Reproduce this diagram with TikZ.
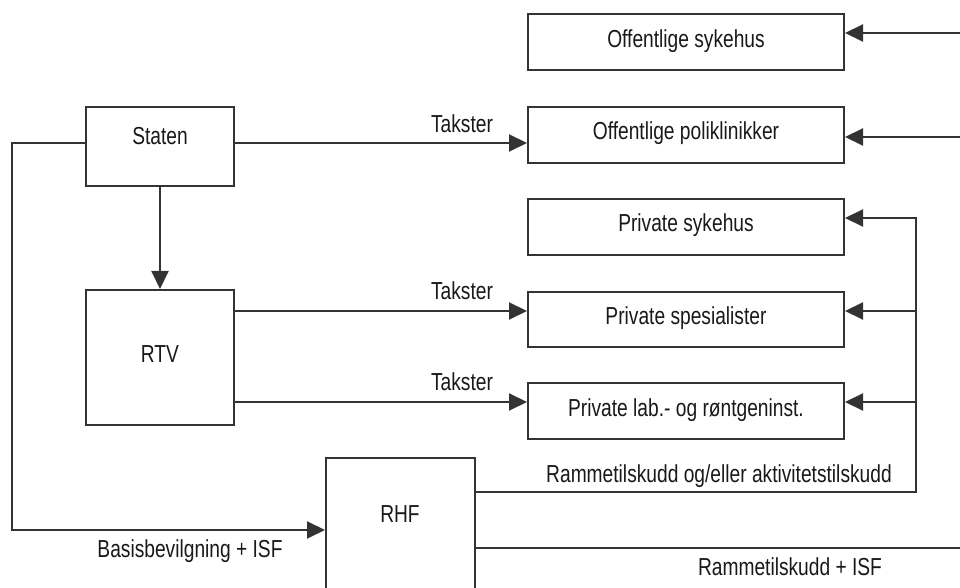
\documentclass[tikz,border=0pt]{standalone}
\usepackage{fontspec}
\setmainfont[FakeStretch=0.78]{Liberation Sans}
\usetikzlibrary{arrows.meta,calc}
\begin{document}
\begin{tikzpicture}[x=0.5pt,y=-0.5pt,
  box/.style={draw=black!80,line width=1pt,inner sep=0pt},
  txt/.style={anchor=base,inner sep=0pt,font=\fontsize{12.3}{14}\selectfont,text=black!90},
  conn/.style={draw=black!80,line width=1pt},
  arr/.style={conn,-{Triangle[length=9pt,width=8.5pt]}}]
\useasboundingbox (0,0) rectangle (960,588);
\clip (0,0) rectangle (960,588);
% boxes
\node[box,minimum width=158pt,minimum height=28pt] (os) at (686,42) {};
\node[box,minimum width=158pt,minimum height=28pt] (op) at (686,135) {};
\node[box,minimum width=158pt,minimum height=28pt] (ps) at (686,227) {};
\node[box,minimum width=158pt,minimum height=27.5pt] (psp) at (686,319.5) {};
\node[box,minimum width=158pt,minimum height=28pt] (pl) at (686,411) {};
\node[box,minimum width=74pt,minimum height=39.5pt] (staten) at (160,146.5) {};
\node[box,minimum width=74pt,minimum height=67.5pt] (rtv) at (160,357.5) {};
\node[box,minimum width=74.5pt,minimum height=76pt] (rhf) at (400.5,534) {};
% box texts
\node[txt] (tos) at (686,48) {Offentlige sykehus};
\node[txt] (top) at (686,140) {Offentlige poliklinikker};
\node[txt] (tps) at (686,232) {Private sykehus};
\node[txt] (tpsp) at (686,325) {Private spesialister};
\node[txt] (tpl) at (686,417) {Private lab.- og røntgeninst.};
\node[txt] (tstaten) at (160,145) {Staten};
\node[txt] (trtv) at (160,363) {RTV};
\node[txt] (trhf) at (400,523) {RHF};
% connector labels
\node[txt] (l1) at (462,133) {Takster};
\node[txt] (l2) at (462,300) {Takster};
\node[txt] (l3) at (462,391) {Takster};
\node[txt] (l4) at (719,483) {Rammetilskudd og/eller aktivitetstilskudd};
\node[txt] (l5) at (190,558) {Basisbevilgning + ISF};
\node[txt] (l6) at (790,575) {Rammetilskudd + ISF};
% coordinates
\coordinate (s1) at (234,143);
\coordinate (s2) at (86,143);
\coordinate (c1) at (12,143);
\coordinate (c2) at (12,530);
\coordinate (r1) at (234,311);
\coordinate (r2) at (234,402);
\coordinate (e1) at (960,33);
\coordinate (e2) at (960,137);
\coordinate (h1) at (475,492);
\coordinate (b1) at (916,492);
\coordinate (b2) at (916,218);
\coordinate (b3) at (916,311);
\coordinate (b4) at (916,402);
\coordinate (h2) at (475,548);
\coordinate (e3) at (960,548);
% connectors
\draw[arr] (s1) -- (s1 -| op.west);
\draw[arr] (staten.south) -- (rtv.north);
\draw[arr] (s2) -- (c1) -- (c2) -- (c2 -| rhf.west);
\draw[arr] (r1) -- (r1 -| psp.west);
\draw[arr] (r2) -- (r2 -| pl.west);
\draw[arr] (e1) -- (e1 -| os.east);
\draw[arr] (e2) -- (e2 -| op.east);
\draw[arr] (h1) -- (b1) -- (b2) -- (b2 -| ps.east);
\draw[arr] (b3) -- (b3 -| psp.east);
\draw[arr] (b4) -- (b4 -| pl.east);
\draw[conn] (h2) -- (e3);
\end{tikzpicture}
\end{document}
